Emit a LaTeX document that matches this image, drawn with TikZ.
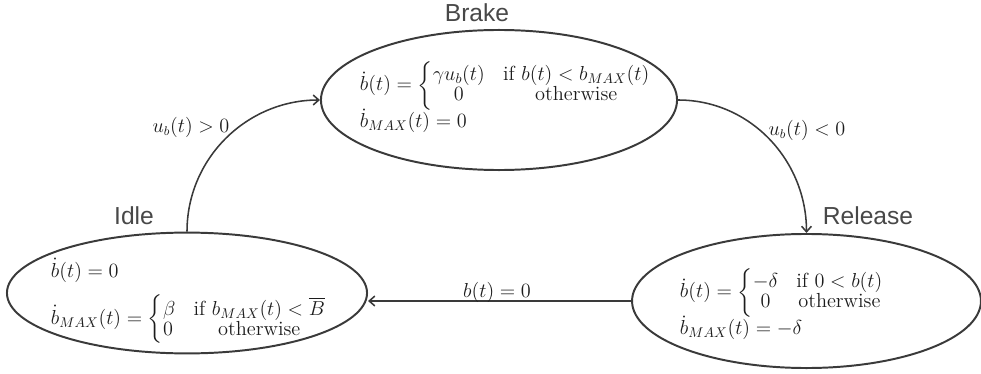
\documentclass[tikz,border=0pt]{standalone}
\usepackage{amsmath}
\usepackage{fontspec}
\newfontfamily\titlefont{Liberation Sans}
\usetikzlibrary{arrows.meta,shapes.geometric,positioning}
\definecolor{cEdge}{RGB}{58,58,58}
\definecolor{cTitle}{RGB}{72,72,72}
\definecolor{cMath}{RGB}{28,28,28}
\setlength{\arraycolsep}{6.5pt}
\renewcommand{\arraystretch}{0.8}

\begin{document}
\begin{tikzpicture}[
  x=0.025cm, y=-0.025cm, color=cEdge,
  state/.style ={ellipse, draw=cEdge, line width=1.4pt, inner sep=0pt},
  title/.style ={font=\titlefont\fontsize{17.5}{20}\selectfont, color=cTitle},
  eqs/.style   ={font=\fontsize{14.5}{17}\selectfont, color=cMath, align=left, anchor=west},
  trans/.style ={-{Straight Barb[length=4pt,width=7pt]}, line width=1.1pt, draw=cEdge},
  guard/.style ={font=\fontsize{13.5}{16}\selectfont, color=cMath},
]

\useasboundingbox (0,0) rectangle (981,374);

% ----- the three states -------------------------------------------------
\node[state, minimum width=8.90cm, minimum height=3.50cm] (brake)   at (499,100)   {};
\node[state, minimum width=9.00cm, minimum height=3.02cm] (idle)    at (187,293)   {};
\node[state, minimum width=8.72cm, minimum height=3.35cm] (release) at (806.5,301) {};

\node[title] (brakeT)   at (477,13)  {Brake};
\node[title] (idleT)    at (134,216) {Idle};
\node[title] (releaseT) at (868,216) {Release};

% ----- dynamics in each state -------------------------------------------
\node[eqs] (brakeEq) at (355,97)
  {$\dot b(t) = \left\{\begin{array}{@{}cc@{}}
     \gamma u_b(t) & \text{if } b(t) < b_{MAX}(t)\\
     0 & \text{otherwise}\end{array}\right.$\\[-2pt]
   $\dot b_{MAX}(t) = 0$};

\node[eqs] (idleEq) at (46,301)
  {\setlength{\arraycolsep}{4.5pt}$\dot b(t) = 0$\\[8pt]
   $\dot b_{MAX}(t) = \left\{\begin{array}{@{}lc@{}}
     \beta & \text{if } b_{MAX}(t) < \overline{B}\\
     0 & \text{otherwise}\end{array}\right.$};

\node[eqs] (releaseEq) at (675,304)
  {$\dot b(t) = \left\{\begin{array}{@{}cc@{}}
     -\delta & \text{if } 0 < b(t)\\
     0 & \text{otherwise}\end{array}\right.$\\[-2pt]
   $\dot b_{MAX}(t) = -\delta$};

% ----- transitions --------------------------------------------------------
\draw[trans] (idle.north) to[out=90,in=180] (brake.west);
\draw[trans] (brake.east) to[out=0,in=90] (release.north);
\draw[trans] (release.west) -- (release.west -| idle.east);

\node[guard] (gBrake)   at (191,127) {$u_b(t) > 0$};
\node[guard] (gRelease) at (807,130) {$u_b(t) < 0$};
\node[guard] (gIdle)    at (497,292) {$b(t) = 0$};

\end{tikzpicture}
\end{document}
